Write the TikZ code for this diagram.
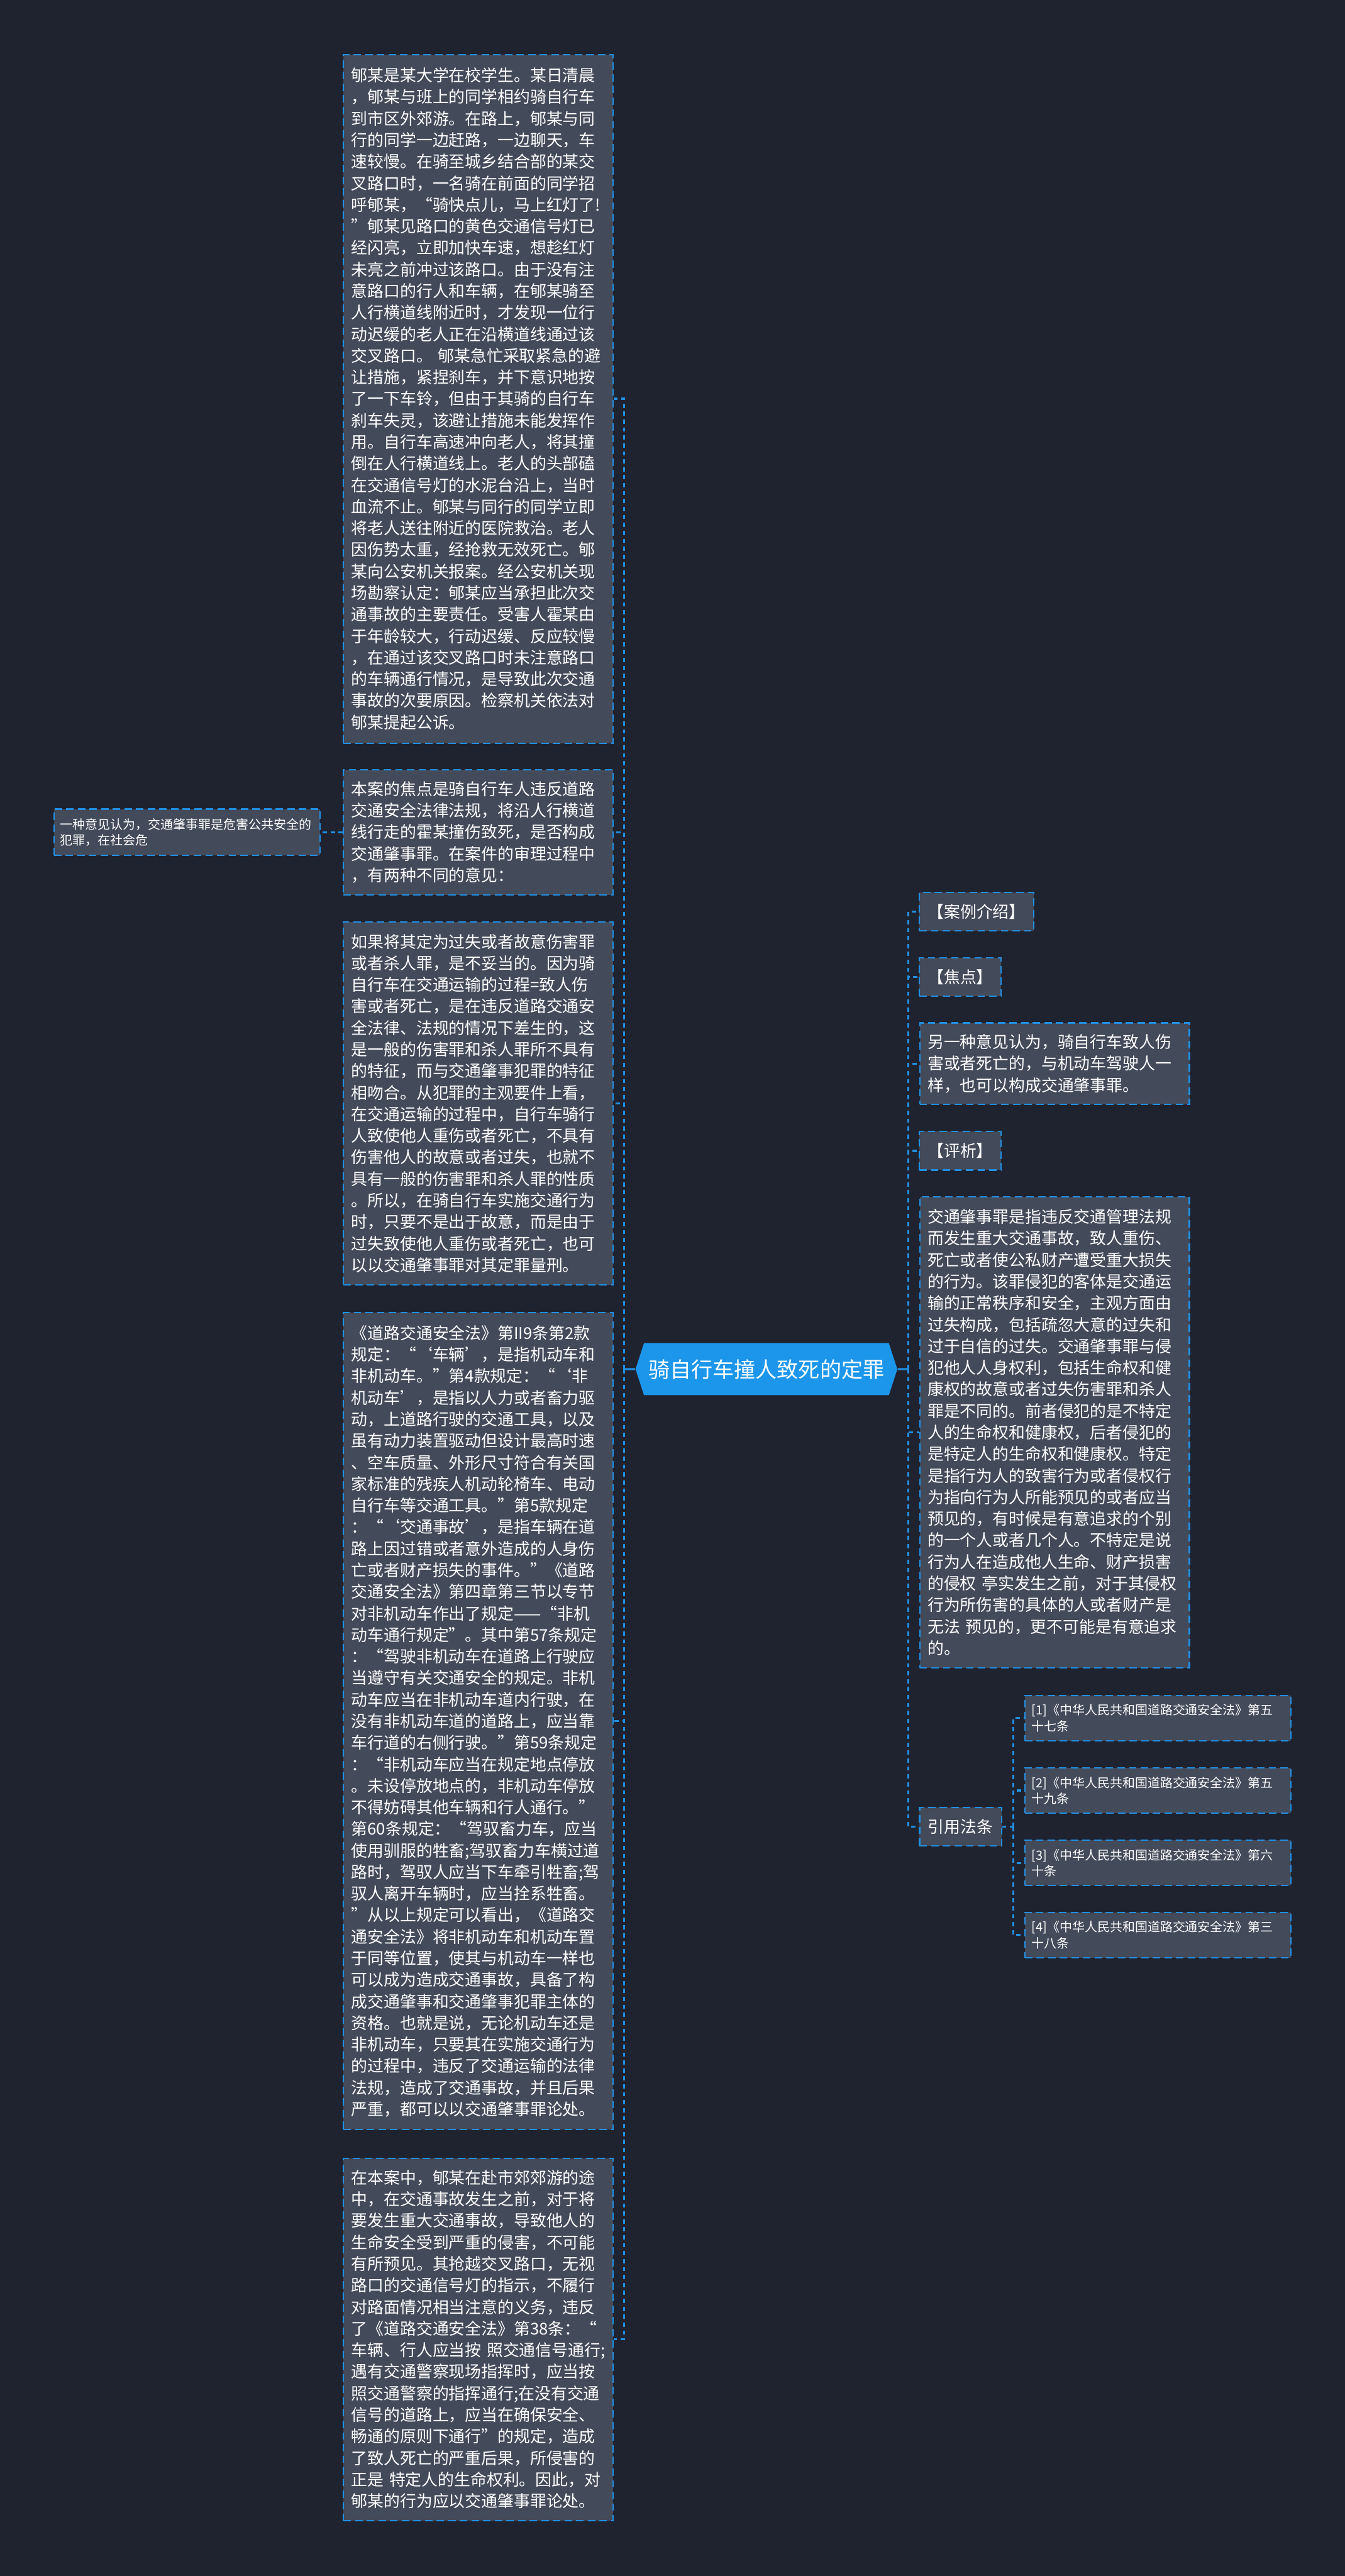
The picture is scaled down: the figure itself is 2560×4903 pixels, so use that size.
\documentclass[tikz,border=0pt]{standalone}
\usepackage{fontspec}
\setmainfont{Noto Sans CJK SC}
\usepackage{tikz}
\usetikzlibrary{shapes.symbols}
\definecolor{bgnavy}{RGB}{31,35,48}
\definecolor{boxgray}{RGB}{67,74,90}
\definecolor{lineblue}{RGB}{33,143,226}
\definecolor{rootblue}{RGB}{28,150,235}

\begin{document}
\begin{tikzpicture}[
    x=0.01cm, y=-0.01cm,
    para/.style={rectangle, draw=lineblue, fill=boxgray, line width=0.7pt,
        dash pattern=on 4pt off 2.3pt, text=white, align=left,
        font=\fontsize{8.8pt}{11.67pt}\selectfont,
        text width=4.83cm, inner xsep=0.15cm, inner ysep=0pt},
    tag/.style={para, text width=, align=center, inner xsep=0.16cm,
        minimum height=0.73cm},
    note/.style={para, font=\fontsize{6.8pt}{8.54pt}\selectfont,
        text width=4.82cm, inner xsep=0.12cm},
    topic/.style={signal, signal to=east and west, signal pointer angle=144,
        fill=rootblue, text=white, font=\fontsize{11.6pt}{14pt}\selectfont,
        minimum width=4.98cm, minimum height=0.99cm, inner sep=0pt},
    stem/.style={draw=lineblue, line width=1.1pt},
    branch/.style={draw=lineblue, line width=1.1pt, dash pattern=on 2.3pt off 2pt},
]
\fill[bgnavy] (0,0) rectangle (2560,4903);

% centre
\node[topic] (center) at (1459,2606) {骑自行车撞人致死的定罪};

% left column
\node[para, minimum height=13.10cm] (intro) at (910.5,759) {%
郇某是某大学在校学生。某日清晨\\
，郇某与班上的同学相约骑自行车\\
到市区外郊游。在路上，郇某与同\\
行的同学一边赶路，一边聊天，车\\
速较慢。在骑至城乡结合部的某交\\
叉路口时，一名骑在前面的同学招\\
呼郇某，“骑快点儿，马上红灯了!\\
”郇某见路口的黄色交通信号灯已\\
经闪亮，立即加快车速，想趁红灯\\
未亮之前冲过该路口。由于没有注\\
意路口的行人和车辆，在郇某骑至\\
人行横道线附近时，才发现一位行\\
动迟缓的老人正在沿横道线通过该\\
交叉路口。~郇某急忙采取紧急的避\\
让措施，紧捏刹车，并下意识地按\\
了一下车铃，但由于其骑的自行车\\
刹车失灵，该避让措施未能发挥作\\
用。自行车高速冲向老人，将其撞\\
倒在人行横道线上。老人的头部磕\\
在交通信号灯的水泥台沿上，当时\\
血流不止。郇某与同行的同学立即\\
将老人送往附近的医院救治。老人\\
因伤势太重，经抢救无效死亡。郇\\
某向公安机关报案。经公安机关现\\
场勘察认定：郇某应当承担此次交\\
通事故的主要责任。受害人霍某由\\
于年龄较大，行动迟缓、反应较慢\\
，在通过该交叉路口时未注意路口\\
的车辆通行情况，是导致此次交通\\
事故的次要原因。检察机关依法对\\
郇某提起公诉。};

\node[para, minimum height=2.38cm] (focus) at (910.5,1584) {%
本案的焦点是骑自行车人违反道路\\
交通安全法律法规，将沿人行横道\\
线行走的霍某撞伤致死，是否构成\\
交通肇事罪。在案件的审理过程中\\
，有两种不同的意见：};

\node[note, minimum height=0.88cm] (opinion1) at (356,1584) {%
一种意见认为，交通肇事罪是危害公共安全的\\
犯罪，在社会危};

\node[para, minimum height=6.90cm] (reject) at (910.5,2100) {%
如果将其定为过失或者故意伤害罪\\
或者杀人罪，是不妥当的。因为骑\\
自行车在交通运输的过程=致人伤\\
害或者死亡，是在违反道路交通安\\
全法律、法规的情况下差生的，这\\
是一般的伤害罪和杀人罪所不具有\\
的特征，而与交通肇事犯罪的特征\\
相吻合。从犯罪的主观要件上看，\\
在交通运输的过程中，自行车骑行\\
人致使他人重伤或者死亡，不具有\\
伤害他人的故意或者过失，也就不\\
具有一般的伤害罪和杀人罪的性质\\
。所以，在骑自行车实施交通行为\\
时，只要不是出于故意，而是由于\\
过失致使他人重伤或者死亡，也可\\
以以交通肇事罪对其定罪量刑。};

\node[para, minimum height=15.54cm] (statute) at (910.5,3276) {%
《道路交通安全法》第II9条第2款\\
规定：“‘车辆’，是指机动车和\\
非机动车。”第4款规定：“‘非\\
机动车’，是指以人力或者畜力驱\\
动，上道路行驶的交通工具，以及\\
虽有动力装置驱动但设计最高时速\\
、空车质量、外形尺寸符合有关国\\
家标准的残疾人机动轮椅车、电动\\
自行车等交通工具。”第5款规定\\
：“‘交通事故’，是指车辆在道\\
路上因过错或者意外造成的人身伤\\
亡或者财产损失的事件。”《道路\\
交通安全法》第四章第三节以专节\\
对非机动车作出了规定——“非机\\
动车通行规定”。其中第57条规定\\
：“驾驶非机动车在道路上行驶应\\
当遵守有关交通安全的规定。非机\\
动车应当在非机动车道内行驶，在\\
没有非机动车道的道路上，应当靠\\
车行道的右侧行驶。”第59条规定\\
：“非机动车应当在规定地点停放\\
。未设停放地点的，非机动车停放\\
不得妨碍其他车辆和行人通行。”\\
第60条规定：“驾驭畜力车，应当\\
使用驯服的牲畜;驾驭畜力车横过道\\
路时，驾驭人应当下车牵引牲畜;驾\\
驭人离开车辆时，应当拴系牲畜。\\
”从以上规定可以看出，《道路交\\
通安全法》将非机动车和机动车置\\
于同等位置，使其与机动车一样也\\
可以成为造成交通事故，具备了构\\
成交通肇事和交通肇事犯罪主体的\\
资格。也就是说，无论机动车还是\\
非机动车，只要其在实施交通行为\\
的过程中，违反了交通运输的法律\\
法规，造成了交通事故，并且后果\\
严重，都可以以交通肇事罪论处。};

\node[para, minimum height=6.89cm] (verdict) at (910.5,4452.5) {%
在本案中，郇某在赴市郊郊游的途\\
中，在交通事故发生之前，对于将\\
要发生重大交通事故，导致他人的\\
生命安全受到严重的侵害，不可能\\
有所预见。其抢越交叉路口，无视\\
路口的交通信号灯的指示，不履行\\
对路面情况相当注意的义务，违反\\
了《道路交通安全法》第38条：“\\
车辆、行人应当按~照交通信号通行;\\
遇有交通警察现场指挥时，应当按\\
照交通警察的指挥通行;在没有交通\\
信号的道路上，应当在确保安全、\\
畅通的原则下通行”的规定，造成\\
了致人死亡的严重后果，所侵害的\\
正是~特定人的生命权利。因此，对\\
郇某的行为应以交通肇事罪论处。};

% right column
\node[tag] (tagintro) at (1859,1735.5) {【案例介绍】};
\node[tag] (tagfocus) at (1828,1859.5) {【焦点】};
\node[para, minimum height=1.55cm] (opinion2) at (2007.5,2024.5) {%
另一种意见认为，骑自行车致人伤\\
害或者死亡的，与机动车驾驶人一\\
样，也可以构成交通肇事罪。};
\node[tag] (taganalysis) at (1828,2190.5) {【评析】};
\node[para, minimum height=8.96cm] (analysis) at (2007.5,2726) {%
交通肇事罪是指违反交通管理法规\\
而发生重大交通事故，致人重伤、\\
死亡或者使公私财产遭受重大损失\\
的行为。该罪侵犯的客体是交通运\\
输的正常秩序和安全，主观方面由\\
过失构成，包括疏忽大意的过失和\\
过于自信的过失。交通肇事罪与侵\\
犯他人人身权利，包括生命权和健\\
康权的故意或者过失伤害罪和杀人\\
罪是不同的。前者侵犯的是不特定\\
人的生命权和健康权，后者侵犯的\\
是特定人的生命权和健康权。特定\\
是指行为人的致害行为或者侵权行\\
为指向行为人所能预见的或者应当\\
预见的，有时候是有意追求的个别\\
的一个人或者几个人。不特定是说\\
行为人在造成他人生命、财产损害\\
的侵权~亭实发生之前，对于其侵权\\
行为所伤害的具体的人或者财产是\\
无法~预见的，更不可能是有意追求\\
的。};
\node[tag] (laws) at (1828.5,3477) {引用法条};

\foreach \i/\y/\num in {1/3270/五\\十七条, 2/3408/五\\十九条, 3/3546/六\\十条, 4/3683/三\\十八条} {
    \node[note, text width=4.80cm, inner xsep=0.13cm, minimum height=0.86cm]
        (law\i) at (2204,\y) {{[\i]}《中华人民共和国道路交通安全法》第\num};
}

% connectors
\coordinate (lj) at (1188,2606);
\coordinate (rj) at (1729,2606);
\coordinate (fj) at (1929,3477);
\draw[stem] (center) -- (lj);
\draw[stem] (center) -- (rj);
\foreach \n in {intro, focus, reject, statute, verdict} {
    \draw[branch] (lj) |- (\n.east);
}
\foreach \n in {tagintro, tagfocus, opinion2, taganalysis, analysis, laws} {
    \draw[branch] (rj) |- (\n.west);
}
\draw[branch] (focus) -- (opinion1);
\draw[branch] (laws) -- (fj);
\foreach \i in {1,...,4} {
    \draw[branch] (fj) |- (law\i.west);
}
\end{tikzpicture}
\end{document}
